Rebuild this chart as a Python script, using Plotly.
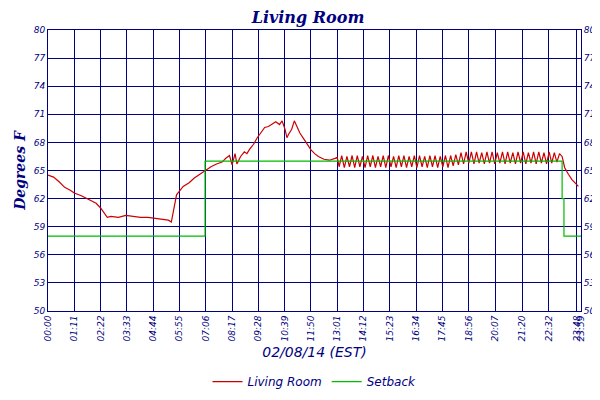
import plotly.graph_objects as go

# Living room temperature (minutes since midnight, deg F)
lr_minutes = [0,15,30,45,60,71,90,110,130,142,150,160,170,190,210,230,250,270,290,310,325,333,340,347,355,365,381,395,410,424,440,455,470,480,490,497,505,510,520,530,537,545,555,565,575,585,595,605,615,625,632,640,645,650,658,665,672,680,690,700,710,720,730,745,760,775,781]
lr_temps = [64.5,64.3,63.8,63.2,62.9,62.6,62.3,61.9,61.5,61.0,60.6,60.0,60.1,60.0,60.2,60.1,60.0,60.0,59.9,59.8,59.7,59.5,60.8,62.4,62.8,63.3,63.7,64.2,64.6,65.0,65.4,65.7,65.9,66.3,66.6,65.6,66.8,65.7,66.5,67.0,66.8,67.3,67.8,68.5,69.0,69.6,69.7,70.0,70.2,69.9,70.3,69.4,68.5,68.9,69.4,70.3,69.6,69.0,68.4,67.8,67.2,66.8,66.5,66.2,66.1,66.3,66.4]
osc_minutes = list(range(786, 1389, 7))
osc_temps = [65.4,66.6,65.3,66.5,65.4,66.6,65.3,66.6,65.4,66.5,65.3,66.6,65.4,66.6,65.3,66.5,65.4,66.6,65.3,66.6,
             65.4,66.5,65.3,66.6,65.4,66.6,65.3,66.5,65.4,66.6,65.3,66.6,65.4,66.5,65.3,66.6,65.4,66.6,65.3,66.5,
             65.4,66.6,65.3,66.6,65.5,66.7,65.6,66.9,65.7,67.0,65.8,67.0,65.7,67.0,65.8,66.9,65.7,67.0,65.8,67.0,
             65.7,66.9,65.8,67.0,65.7,67.0,65.8,66.9,65.7,67.0,65.8,67.0,65.7,66.9,65.8,67.0,65.7,67.0,65.8,66.9,
             65.7,67.0,65.8,66.9,65.9,66.8]
tail_minutes = [1395,1405,1415,1425,1432,1439]
tail_temps = [66.5,65.3,64.6,64.0,63.6,63.3]

setback_minutes = [0,424,424,1388,1388,1393,1393,1439]
setback_temps = [58,58,66,66,62,62,58,58]

tick_minutes = [0,71,142,213,284,355,426,497,568,639,710,781,852,923,994,1065,1136,1207,1280,1352,1428,1439]
tick_labels = ["00:00","01:11","02:22","03:33","04:44","05:55","07:06","08:17","09:28","10:39","11:50",
               "13:01","14:12","15:23","16:34","17:45","18:56","20:07","21:20","22:32","23:48","23:59"]
y_ticks = [50,53,56,59,62,65,68,71,74,77,80]

navy = "#000080"
x_all = lr_minutes + osc_minutes + tail_minutes
y_all = lr_temps + osc_temps + tail_temps

fig = go.Figure()
fig.add_trace(go.Scatter(x=x_all, y=y_all, mode="lines", name="<i>Living Room</i>",
                         line=dict(color="#cc0000", width=1.2)))
fig.add_trace(go.Scatter(x=setback_minutes, y=setback_temps, mode="lines", name="<i>Setback</i>",
                         line=dict(color="#00bb00", width=1.2)))
fig.add_trace(go.Scatter(x=[0], y=[50], yaxis="y2", mode="markers", marker=dict(opacity=0),
                         showlegend=False, hoverinfo="skip"))

fig.update_layout(
    width=600, height=400, margin=dict(l=40, r=24, t=22, b=78),
    paper_bgcolor="white", plot_bgcolor="white",
    font=dict(family="DejaVu Sans", color=navy),
    title=dict(text="<b><i>Living Room</i></b>", x=0.5, xanchor="center", y=0.99, yanchor="top",
               font=dict(size=16, color=navy, family="DejaVu Serif")),
    xaxis=dict(range=[0, 1439], tickvals=tick_minutes, ticktext=["<i>%s</i>" % t for t in tick_labels],
               tickangle=-90, tickfont=dict(size=9, color=navy), showgrid=True, gridcolor=navy, gridwidth=1,
               showline=True, linecolor=navy, mirror=True, zeroline=False, ticks="",
               title=dict(text="<i>02/08/14 (EST)</i>", font=dict(size=14, color=navy), standoff=6)),
    yaxis=dict(range=[50, 80], tickvals=y_ticks, ticktext=["<i>%d</i>" % v for v in y_ticks],
               tickfont=dict(size=9, color=navy), showgrid=True, gridcolor=navy, gridwidth=1,
               showline=True, linecolor=navy, zeroline=False, ticks="",
               title=dict(text="<b><i>Degrees F</i></b>", font=dict(size=14, color=navy, family="DejaVu Serif"), standoff=4)),
    yaxis2=dict(range=[50, 80], overlaying="y", side="right", tickvals=y_ticks,
                ticktext=["<i>%d</i>" % v for v in y_ticks], tickfont=dict(size=9, color=navy),
                showgrid=False, showline=True, linecolor=navy, zeroline=False, ticks=""),
    legend=dict(orientation="h", x=0.5, xanchor="center", y=-0.2, yanchor="top",
                font=dict(size=12, color=navy)),
    showlegend=True,
)
fig.write_html("out.html")
